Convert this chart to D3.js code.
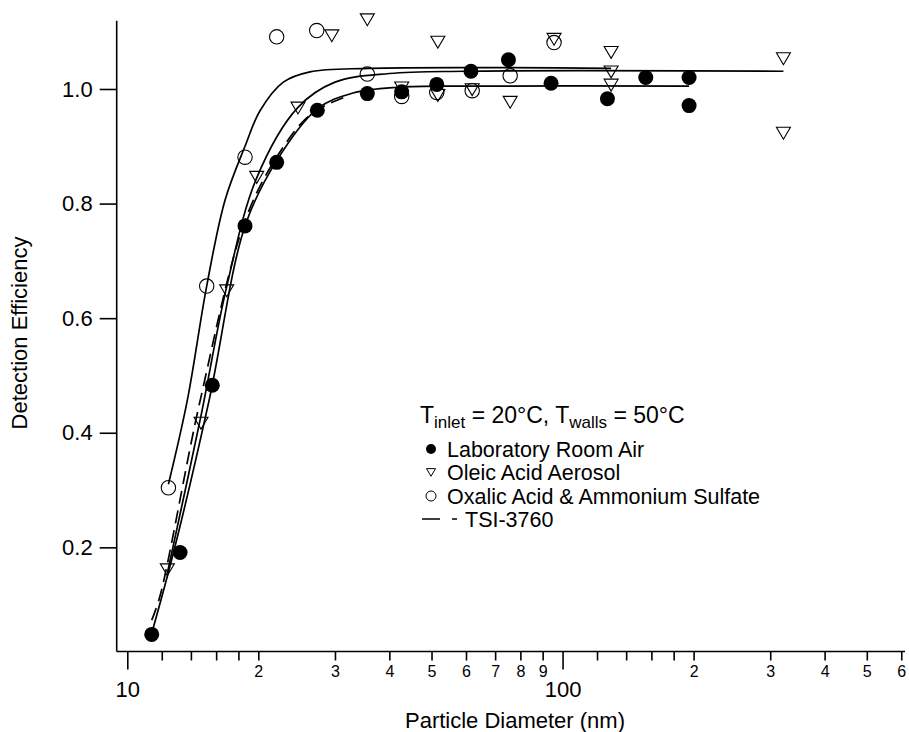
<!DOCTYPE html>
<html>
<head>
<meta charset="utf-8">
<script src="https://cdn.jsdelivr.net/npm/d3@7"></script>
<style>
  body { margin: 0; background: #fff; }
  text { font-family: "Liberation Sans", Arial, sans-serif; fill: #000; }
</style>
</head>
<body>
<div id="chart"></div>
<script>
// Laboratory room air (filled circles)
const roomD   = [11.38, 13.22, 15.68, 18.64, 22.04, 27.33, 35.6, 42.7, 51.4, 61.6, 75.1, 94.1, 126.8, 155.3, 195.3, 195.3]
const roomEff = [0.048, 0.191, 0.483, 0.761, 0.872, 0.963, 0.992, 0.995, 1.008, 1.031, 1.051, 1.010, 0.983, 1.020, 1.020, 0.971]

// Oleic acid aerosol (open triangles)
const oleicD   = [12.36, 14.77, 16.92, 19.83, 24.67, 29.5, 35.6, 42.7, 51.7, 51.7, 62.0, 75.8, 95.6, 129.3, 129.3, 129.3, 321.7, 321.7]
const oleicEff = [0.162, 0.418, 0.649, 0.847, 0.968, 1.094, 1.122, 1.003, 1.083, 0.990, 1.000, 0.978, 1.088, 1.065, 1.031, 1.008, 1.054, 0.924]

// Oxalic acid & ammonium sulfate (open circles)
const oxalicD   = [12.43, 15.22, 18.64, 22.04, 27.24, 35.6, 42.7, 51.4, 62.0, 75.8, 95.6]
const oxalicEff = [0.304, 0.656, 0.881, 1.091, 1.102, 1.026, 0.987, 0.994, 0.997, 1.023, 1.081]

// fitted curves
const roomFitD   = [11.38, 12.76, 15.42, 18.64, 22.04, 27.3, 33, 42, 60, 195.3]
const roomFitEff = [0.05, 0.19, 0.457, 0.761, 0.875, 0.965, 0.993, 1.003, 1.005, 1.005]
const oleicFitD   = [12.36, 14.77, 16.92, 19.83, 24.67, 30, 40, 60, 321.7]
const oleicFitEff = [0.155, 0.43, 0.655, 0.845, 0.968, 1.012, 1.027, 1.031, 1.031]
const oxalicFitD   = [12.43, 13.74, 15.22, 16.77, 18.64, 20.18, 22.83, 26.29, 36, 129.3]
const oxalicFitEff = [0.31, 0.457, 0.656, 0.806, 0.9, 0.962, 1.012, 1.03, 1.036, 1.036]
const tsiD   = [11.38, 11.89, 14.71, 18.64, 22, 26.3, 31.4]
const tsiEff = [0.073, 0.115, 0.457, 0.77, 0.88, 0.955, 0.985]

// axis ticks
const yTicks = [0.2, 0.4, 0.6, 0.8, 1.0]
const xMajor = [10, 100]
const xMinor = [12, 14, 16, 18, 20, 30, 40, 50, 60, 70, 80, 90, 120, 140, 160, 180, 200, 300, 400, 500, 600]
const xMinorLabelled = [20, 30, 40, 50, 60, 70, 80, 90, 200, 300, 400, 500, 600]

const legendNames = ["Laboratory Room Air", "Oleic Acid Aerosol", "Oxalic Acid & Ammonium Sulfate", "TSI-3760"]

const width = 909, height = 732

const svg = d3.select("#chart").append("svg")
  .attr("width", width)
  .attr("height", height)

const x = d3.scaleLog()
  .domain([9.455, 612])
  .range([116.7, 905])

const y = d3.scaleLinear()
  .domain([0.0182, 1.1192])
  .range([651.5, 20.7])

// y axis
const yAxis = svg.append("g")
  .attr("transform", "translate(" + x.range()[0] + ",0)")
  .call(d3.axisLeft(y).tickValues(yTicks).tickSize(17).tickPadding(7).tickFormat(d3.format(".1f")))
yAxis.select(".domain").attr("d", "M0," + y.range()[1] + "V" + y.range()[0]).attr("stroke-width", 1.6)
yAxis.selectAll(".tick line").attr("stroke-width", 1.6)
yAxis.selectAll(".tick text").style("font-size", "22px")

// x axis, minor then major
const xAxisMinor = svg.append("g")
  .attr("transform", "translate(0," + y.range()[0] + ")")
  .call(d3.axisBottom(x).tickValues(xMinor).tickSize(9).tickPadding(5)
    .tickFormat(d => xMinorLabelled.includes(d) ? String(d).charAt(0) : ""))
xAxisMinor.select(".domain").attr("d", "M" + x.range()[0] + ",0H" + x.range()[1]).attr("stroke-width", 1.6)
xAxisMinor.selectAll(".tick line").attr("stroke-width", 1.6)
xAxisMinor.selectAll(".tick text").style("font-size", "16px")

const xAxisMajor = svg.append("g")
  .attr("transform", "translate(0," + y.range()[0] + ")")
  .call(d3.axisBottom(x).tickValues(xMajor).tickSize(18).tickPadding(12).tickFormat(d3.format("d")))
xAxisMajor.select(".domain").remove()
xAxisMajor.selectAll(".tick line").attr("stroke-width", 1.6)
xAxisMajor.selectAll(".tick text").style("font-size", "22px")

// axis titles
svg.append("text")
  .attr("x", 515).attr("y", 728)
  .attr("text-anchor", "middle")
  .style("font-size", "22px")
  .text("Particle Diameter (nm)")

svg.append("text")
  .attr("transform", "translate(27,333) rotate(-90)")
  .attr("text-anchor", "middle")
  .style("font-size", "22px")
  .text("Detection Efficiency")

// fit curves
const line = d3.line()
  .x(d => x(d[0]))
  .y(d => y(d[1]))
  .curve(d3.curveCatmullRom.alpha(0.5))

const fits = [
  { d: d3.zip(roomFitD, roomFitEff), dash: null },
  { d: d3.zip(oleicFitD, oleicFitEff), dash: null },
  { d: d3.zip(oxalicFitD, oxalicFitEff), dash: null },
  { d: d3.zip(tsiD, tsiEff), dash: "13,7" }
]

svg.selectAll(".fit")
  .data(fits)
  .join("path")
  .attr("class", "fit")
  .attr("d", f => line(f.d))
  .attr("fill", "none")
  .attr("stroke", "#000")
  .attr("stroke-width", 1.7)
  .attr("stroke-dasharray", f => f.dash)

// markers
const tri = s => "M" + (-s) + "," + (-s * 0.75) + "L" + s + "," + (-s * 0.75) + "L0," + (s * 0.95) + "Z"

svg.selectAll(".tri")
  .data(d3.zip(oleicD, oleicEff))
  .join("path")
  .attr("class", "tri")
  .attr("transform", d => "translate(" + x(d[0]) + "," + y(d[1]) + ")")
  .attr("d", tri(7))
  .attr("fill", "none")
  .attr("stroke", "#000")
  .attr("stroke-width", 1.1)

svg.selectAll(".ocirc")
  .data(d3.zip(oxalicD, oxalicEff))
  .join("circle")
  .attr("class", "ocirc")
  .attr("cx", d => x(d[0]))
  .attr("cy", d => y(d[1]))
  .attr("r", 7.2)
  .attr("fill", "none")
  .attr("stroke", "#000")
  .attr("stroke-width", 1.1)

svg.selectAll(".fcirc")
  .data(d3.zip(roomD, roomEff))
  .join("circle")
  .attr("class", "fcirc")
  .attr("cx", d => x(d[0]))
  .attr("cy", d => y(d[1]))
  .attr("r", 7.5)
  .attr("fill", "#000")

// legend
const legend = svg.append("g").attr("transform", "translate(420,0)")

const head = legend.append("text")
  .attr("x", 0).attr("y", 423)
  .style("font-size", "23px")
head.append("tspan").text("T")
head.append("tspan").attr("dy", 5).style("font-size", "17px").text("inlet")
head.append("tspan").attr("dy", -5).text(" = 20\u00B0C, T")
head.append("tspan").attr("dy", 5).style("font-size", "17px").text("walls")
head.append("tspan").attr("dy", -5).text(" = 50\u00B0C")

const rowY = [449, 472, 496, 519]

legend.append("circle").attr("cx", 11).attr("cy", rowY[0]).attr("r", 5).attr("fill", "#000")
legend.append("path")
  .attr("transform", "translate(11," + rowY[1] + ")")
  .attr("d", tri(4.5))
  .attr("fill", "none").attr("stroke", "#000").attr("stroke-width", 1)
legend.append("circle").attr("cx", 11).attr("cy", rowY[2]).attr("r", 5)
  .attr("fill", "none").attr("stroke", "#000").attr("stroke-width", 1)
legend.append("line")
  .attr("x1", 2).attr("x2", 38).attr("y1", rowY[3]).attr("y2", rowY[3])
  .attr("stroke", "#000").attr("stroke-width", 1.5)
  .attr("stroke-dasharray", "18,12,5,20")

legend.selectAll(".lab")
  .data(legendNames)
  .join("text")
  .attr("class", "lab")
  .attr("x", (d, i) => i === 3 ? 45 : 27)
  .attr("y", (d, i) => rowY[i])
  .attr("dy", "0.35em")
  .style("font-size", "21.5px")
  .text(d => d)
</script>
</body>
</html>
